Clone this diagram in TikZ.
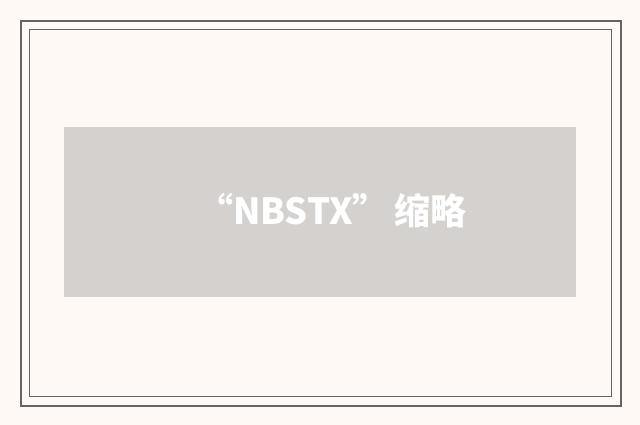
\documentclass[tikz,border=0pt]{standalone}
\usepackage{fontspec}
\usepackage{tikz}
\newfontfamily\cjk{Noto Sans CJK SC}
\definecolor{paper}{RGB}{254,249,245}
\definecolor{frame}{RGB}{102,100,98}
\definecolor{plate}{RGB}{212,209,206}
\usetikzlibrary{positioning}
\tikzset{%
  outerframe/.style={draw=frame, line width=2pt},% thick outer border
  innerframe/.style={draw=frame, line width=1pt},% thin inner border
  placeholder/.style={fill=plate, inner sep=0pt},% gray image box
  caption/.style={text=white, inner sep=0pt, font=\cjk\bfseries\fontsize{36}{42}\selectfont}% white title
}
\begin{document}
\begin{tikzpicture}[x=1pt, y=-1pt]
  \fill[paper] (0,0) rectangle (640,425);
  \useasboundingbox (0,0) rectangle (640,425);
  \coordinate (ol) at (21,21);
  \coordinate (or) at (621,405.5);
  \coordinate (il) at (29.5,29.5);
  \coordinate (ir) at (611.5,396);
  \draw[outerframe] (ol) rectangle (or);
  \draw[innerframe] (il) rectangle (ir);
  \node[placeholder, minimum width=512pt, minimum height=170pt] (box) at (320,212) {};
  \node[caption] (title) at (332,211) {“NBSTX”\hspace{6pt}缩略};
\end{tikzpicture}
\end{document}
